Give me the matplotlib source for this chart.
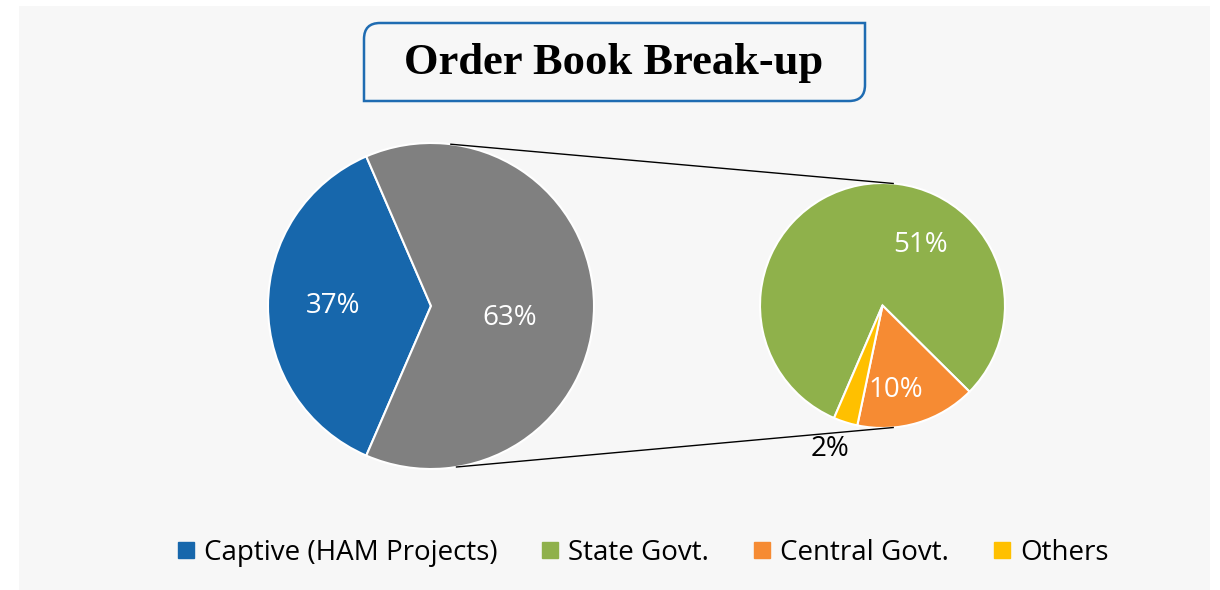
import numpy as np
import matplotlib
matplotlib.use('Agg')
import matplotlib.pyplot as plt
from matplotlib.patches import Rectangle, PathPatch
from matplotlib.path import Path
from matplotlib.lines import Line2D

# Data
title = 'Order Book Break-up'
main_labels = ['Captive (HAM Projects)', 'Other']
main_values = [37, 63]
sub_labels = ['State Govt.', 'Central Govt.', 'Others']
sub_values = [51, 10, 2]

main_colors = ['#1767AC', '#808080']
sub_colors = ['#8FB14B', '#F68B33', '#FFC000']

plt.rcParams['font.family'] = ['Open Sans', 'DejaVu Sans']

W, H = 1220, 590
fig = plt.figure(figsize=(W / 100, H / 100), dpi=100)
fig.patch.set_facecolor('white')
ax = fig.add_axes([0, 0, 1, 1])

# light grey chart area
ax.add_patch(Rectangle((19, 0), 1191, 584, facecolor='#F7F7F7', edgecolor='none', zorder=0))

# pie geometry (pixel units, y up)
c1, r1 = (431, 284), 163
c2, r2 = (882.5, 284.5), 122.5

wedge_style = dict(edgecolor='white', linewidth=1.5)
start1 = 180 - main_values[0] / sum(main_values) * 180
w1, _ = ax.pie(main_values, colors=main_colors, center=c1, radius=r1,
               startangle=start1, wedgeprops=wedge_style)
tot_sub = sum(sub_values)
# green ends where the small wedges begin, going clockwise
start2 = 246.7
w2, _ = ax.pie(sub_values, colors=sub_colors, center=c2, radius=r2,
               startangle=start2, counterclock=False, wedgeprops=wedge_style)

# percentage labels: (angle, radius fraction, colour)
main_lab_pos = [(180, 0.60, 'white'), (-8.6, 0.49, 'white')]
sub_lab_pos = [(58, 0.58, 'white'), (-81, 0.70, 'white'), (-110, 1.25, 'black')]
total = sum(main_values)
for v, (a, rf, col) in zip(main_values, main_lab_pos):
    t = np.deg2rad(a)
    ax.text(c1[0] + rf * r1 * np.cos(t), c1[1] + rf * r1 * np.sin(t), f'{v}%',
            ha='center', va='center', fontsize=20, color=col)
for v, (a, rf, col) in zip(sub_values, sub_lab_pos):
    t = np.deg2rad(a)
    ax.text(c2[0] + rf * r2 * np.cos(t), c2[1] + rf * r2 * np.sin(t), f'{v}%',
            ha='center', va='center', fontsize=20, color=col)

# connector lines between the pies
for a1, a2 in [(83, 85), (-81, -85)]:
    t1, t2 = np.deg2rad(a1), np.deg2rad(a2)
    ax.plot([c1[0] + r1 * np.cos(t1), c2[0] + r2 * np.cos(t2)],
            [c1[1] + r1 * np.sin(t1), c2[1] + r2 * np.sin(t2)],
            color='black', linewidth=1, zorder=1)

# title box with two rounded corners
x0, x1, yb, yt, rr = 364, 865, 489, 567, 16
verts = [(x0, yb), (x0, yt - rr), (x0, yt), (x0 + rr, yt), (x1, yt),
         (x1, yb + rr), (x1, yb), (x1 - rr, yb), (x0, yb), (x0, yb)]
codes = [Path.MOVETO, Path.LINETO, Path.CURVE3, Path.CURVE3, Path.LINETO,
         Path.LINETO, Path.CURVE3, Path.CURVE3, Path.LINETO, Path.CLOSEPOLY]
ax.add_patch(PathPatch(Path(verts, codes), facecolor='#F7F7F7',
                       edgecolor='#1F6CB2', linewidth=1.8, zorder=3))
ax.text(614, 527, title, ha='center', va='center', fontsize=32,
        fontweight='bold', family=['Liberation Serif', 'DejaVu Serif'], zorder=4)

# legend
leg_labels = [main_labels[0]] + sub_labels
leg_colors = [main_colors[0]] + sub_colors
handles = [Line2D([], [], marker='s', linestyle='none', markersize=11,
                  markerfacecolor=c, markeredgecolor=c) for c in leg_colors]
ax.legend(handles, leg_labels, ncol=4, frameon=False, fontsize=20,
          loc='center', bbox_to_anchor=(643 / W, 37 / H),
          handlelength=0.6, handletextpad=0.35, columnspacing=1.6)

ax.set_xlim(0, W)
ax.set_ylim(0, H)
ax.set_aspect('equal')
ax.axis('off')

fig.savefig('out.png', dpi=100, facecolor='white')
